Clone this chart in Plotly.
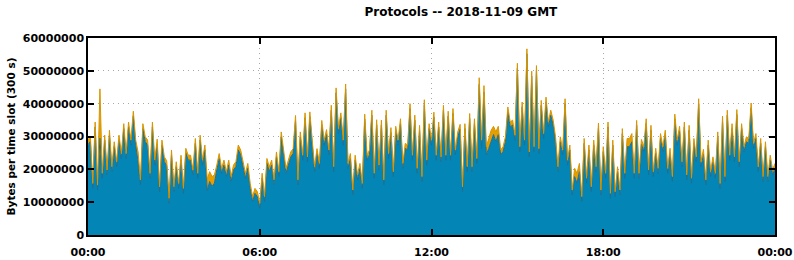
import plotly.graph_objects as go

# total (blue + orange) per 5-minute slot, in millions of bytes
total_m = [
    29, 30, 15.7, 34.4, 15.2, 44.5, 18.8, 30.4, 19.8, 31.9, 20.8, 28.4, 22.3, 30.4, 24.8, 33.9,
    24.8, 34.4, 28.9, 37.7, 28.9, 25.3, 16.8, 33.9, 29.9, 28.9, 18.8, 34.4, 22.8,
    29.2, 14.7, 28.9, 23.8, 22.6, 11.2, 25.9, 14.7, 22.3, 15.7, 24.3, 14.2, 26.4, 24.3, 24.3,
    19.8, 29.4, 18.8, 30.4, 22.8, 27.4, 17.0, 19.3, 17.8, 18.3, 21.3, 24.8, 20.3, 22.8,
    19.3, 22.8, 17.8, 21.3, 22.3, 27.4, 25.9, 22.3, 18.8, 21.8, 15.7, 11.7, 14.2, 13.2, 9.7,
    18.8, 11.7, 23.3, 20.8, 22.8, 16.8, 25.3, 19.3, 31.4, 25.9, 20.3, 22.8, 25.3, 26.3,
    36.4, 16.8, 31.4, 24.3, 37.2, 23.8, 37.5, 28.9, 20.8, 26.3, 21.8, 34.9, 28.9, 32.1, 25.9,
    39.5, 20.8, 44.8, 32.4, 37.2, 28.9, 46.0, 21.8, 24.8, 13.7, 24.3, 18.3, 21.8, 15.7,
    36.8, 24.3, 25.9, 38.0, 18.8, 35.1, 21.3, 35.0, 16.8, 38.0, 24.8, 32.7, 19.3, 33.1, 28.9,
    35.4, 21.8, 27.9, 27.4, 40.0, 24.3, 36.5, 20.3, 33.4, 17.8, 41.2, 22.8, 33.9, 28.9,
    37.4, 24.3, 34.4, 23.8, 39.5, 24.3, 37.7, 24.3, 38.5, 25.9, 31.4, 33.7, 14.7, 33.9, 20.8,
    37.0, 20.8, 35.4, 23.3, 47.9, 28.9, 45.5, 26.9, 29.4, 31.9, 33.1, 31.4, 33.1, 25.9,
    26.9, 29.9, 39.0, 34.4, 35.0, 30.4, 52.3, 26.9, 40.5, 28.9, 56.7, 25.3, 49.9, 26.9, 51.6,
    26.3, 41.0, 30.9, 42.0, 34.4, 38.0, 35.0, 29.9, 20.8, 29.9, 25.9, 41.5, 22.8, 27.4,
    13.7, 20.3, 18.8, 21.8, 11.7, 29.4, 17.3, 27.4, 14.7, 28.9, 20.8, 34.1, 13.7, 26.9, 18.8,
    34.4, 12.7, 28.9, 13.2, 20.8, 13.7, 32.4, 18.8, 29.4, 29.4, 30.9, 18.8, 34.9, 18.8,
    29.1, 26.9, 35.4, 19.8, 33.4, 19.3, 26.4, 20.3, 30.9, 26.9, 31.9, 20.3, 26.4, 17.8, 36.8,
    28.9, 33.1, 22.3, 34.4, 18.3, 33.4, 17.3, 29.4, 23.8, 41.5, 22.3, 26.1, 16.8, 28.9,
    19.3, 23.8, 18.8, 31.4, 15.7, 36.2, 17.8, 38.0, 24.3, 33.9, 23.8, 38.2, 22.3, 33.9, 26.9,
    29.9, 29.4, 40.2, 27.9, 30.9, 20.8, 29.4, 17.8, 28.4, 17.8, 24.3, 19.8, 21.8,
]

# orange (top layer) thickness per slot, in millions of bytes
orange_m = [1.5] * len(total_m)
orange_extra = {5: 15.0, 21: 3.0, 50: 3.5, 51: 3.0, 52: 3.0, 53: 2.5, 164: 2.0,
                165: 2.5, 166: 2.0, 167: 2.5, 168: 3.0, 169: 3.0, 170: 2.5, 171: 3.0,
                172: 2.5, 204: 2.5, 205: 3.0, 206: 2.5, 226: 2.5, 227: 2.5, 228: 2.5}
for k, v in orange_extra.items():
    orange_m[k] = v

slots = list(range(len(total_m)))
blue_vals = [(t - o) * 1e6 for t, o in zip(total_m, orange_m)]
orange_vals = [o * 1e6 for o in orange_m]

tick_pos = [0, 72, 144, 216, 288]
tick_text = ["00:00", "06:00", "12:00", "18:00", "00:00"]
y_ticks = [0, 10000000, 20000000, 30000000, 40000000, 50000000, 60000000]

fig = go.Figure()
fig.add_trace(go.Scatter(x=slots, y=blue_vals, stackgroup="a", mode="lines",
                         line=dict(color="#1f6f8f", width=1), fillcolor="#0385b6",
                         name="blue"))
fig.add_trace(go.Scatter(x=slots, y=orange_vals, stackgroup="a", mode="lines",
                         line=dict(color="#d89500", width=1), fillcolor="#e69f00",
                         name="orange"))

font_family = "DejaVu Sans, Liberation Sans, sans-serif"
fig.update_layout(
    width=794, height=260,
    margin=dict(l=88, r=19, t=38, b=25, autoexpand=False),
    paper_bgcolor="white", plot_bgcolor="white",
    showlegend=False,
    title=dict(text="<b>Protocols -- 2018-11-09 GMT</b>", x=431 / 794, xanchor="center",
               xref="paper", y=1 - 12 / 260, yanchor="middle",
               font=dict(family=font_family, size=12, color="black")),
    font=dict(family=font_family, size=11, color="black"),
)
grid_dash = "1px,4px"
fig.update_xaxes(range=[0, 288], tickvals=tick_pos, ticktext=[f"<b>{t}</b>" for t in tick_text],
                 showline=True, linecolor="black", linewidth=1.5, mirror="ticks",
                 ticks="inside", ticklen=6, tickcolor="black", tickwidth=1.5,
                 showgrid=True, gridcolor="#a8a8a8", griddash=grid_dash, gridwidth=1,
                 zeroline=False, tickfont=dict(size=11), automargin=False,
                 ticklabelstandoff=6)
fig.update_yaxes(range=[0, 60000000], tickvals=y_ticks,
                 ticktext=[f"<b>{v}</b>" for v in y_ticks],
                 showline=True, linecolor="black", linewidth=1.5, mirror="ticks",
                 ticks="inside", ticklen=6, tickcolor="black", tickwidth=1.5,
                 showgrid=True, gridcolor="#a8a8a8", griddash=grid_dash, gridwidth=1,
                 zeroline=False, tickfont=dict(size=11), automargin=False,
                 title=dict(text="<b>Bytes per time slot (300 s)</b>", font=dict(size=10.5),
                            standoff=5))

fig.write_html("out.html")
